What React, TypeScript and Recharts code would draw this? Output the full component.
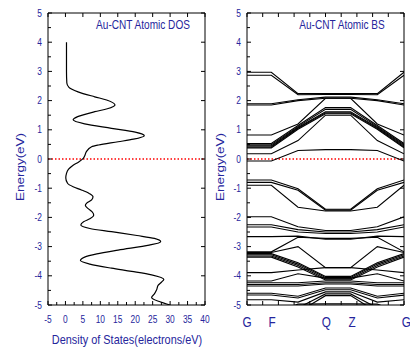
import React from 'react';
import { LineChart, Line, XAxis, YAxis, ReferenceLine } from 'recharts';

const FONT = '"Liberation Sans", Arial, sans-serif';
const BLUE = '#25259c';
const SX = 0.84;

// ---------- DOS panel data ----------
const dosEnergy = [
  -5.0, -4.89, -4.74, -4.62, -4.49, -4.32, -4.22, -4.12, -3.97, -3.85, -3.74, -3.6, -3.48, -3.36, -3.25,
  -3.12, -2.95, -2.83, -2.72, -2.62, -2.49, -2.38, -2.26, -2.15, -2.05, -1.92, -1.8, -1.7, -1.58, -1.5,
  -1.4, -1.29, -1.18, -1.06, -0.95, -0.83, -0.65, -0.49, -0.35, -0.21, -0.1, 0.02, 0.1, 0.25, 0.42,
  0.48, 0.59, 0.68, 0.8, 0.92, 1.05, 1.2, 1.34, 1.45, 1.62, 1.72, 1.85, 2.02, 2.13, 2.3, 2.45, 2.6,
  3.0, 3.5, 4.0,
];
const dosValues = [
  30.0, 27.1, 24.7, 25.5, 26.1, 26.6, 27.5, 28.2, 24.7, 19.0, 13.2, 7.0, 4.3, 5.5, 9.0,
  15.1, 24.0, 27.3, 25.5, 20.5, 13.2, 7.0, 4.4, 5.2, 7.0, 8.1, 7.6, 6.5, 5.7, 6.2,
  7.5, 7.9, 6.8, 4.6, 2.2, 0.6, 0.1, 0.3, 0.9, 2.2, 3.8, 5.1, 5.5, 6.0, 7.5,
  9.5, 15.1, 19.5, 22.6, 20.0, 13.2, 5.5, 2.2, 3.5, 8.4, 12.0, 14.2, 11.8, 8.4, 3.6, 1.0, 0.4,
  0.3, 0.3, 0.3,
];
const dosXTicks = [-5, -2.5, 0, 2.5, 5, 7.5, 10, 12.5, 15, 17.5, 20, 22.5, 25, 27.5, 30, 32.5, 35, 37.5, 40];
const dosXLabels = [-5, 0, 5, 10, 15, 20, 25, 30, 35, 40];
const dosTopTicks = [-5, 0, 5, 10, 15, 20, 25, 30, 35, 40];

// ---------- shared energy axis ----------
const energyTicks = [-5, -4.5, -4, -3.5, -3, -2.5, -2, -1.5, -1, -0.5, 0, 0.5, 1, 1.5, 2, 2.5, 3, 3.5, 4, 4.5, 5];
const energyLabels = [-5, -4, -3, -2, -1, 0, 1, 2, 3, 4, 5];

// ---------- band structure data ----------
const kPoints = [0, 1.55, 3.25, 5.0, 6.6, 8.3, 10];
const kTicks = [0, 1, 2, 3, 4, 5, 6, 7, 8, 9, 10];
const kLabelNames = ['G', 'F', 'Q', 'Z', 'G'];
const kLabelPos = [0, 1.6, 5.05, 6.7, 10.15];
const bands: number[][] = [
  [2.97, 2.97, 2.24, 2.24, 2.24, 2.24, 2.97],
  [2.87, 2.87, 2.2, 2.21, 2.21, 2.2, 2.87],
  [1.89, 1.89, 2.03, 2.12, 2.12, 2.03, 1.89],
  [1.85, 1.85, 2.0, 2.08, 2.08, 2.0, 1.85],
  [0.82, 0.82, 1.2, 2.08, 2.08, 1.2, 0.82],
  [0.53, 0.53, 1.15, 1.76, 1.76, 1.15, 0.53],
  [0.49, 0.49, 1.11, 1.7, 1.7, 1.11, 0.49],
  [0.45, 0.45, 1.08, 1.62, 1.62, 1.08, 0.45],
  [0.41, 0.41, 1.05, 1.58, 1.58, 1.05, 0.41],
  [0.38, 0.38, 1.02, 1.55, 1.55, 1.02, 0.38],
  [0.18, 0.18, 0.63, 1.5, 1.5, 0.63, 0.18],
  [-0.07, -0.07, 0.29, 0.32, 0.32, 0.29, -0.07],
  [-0.72, -0.72, -1.02, -1.72, -1.72, -1.02, -0.72],
  [-0.8, -0.8, -1.07, -1.75, -1.75, -1.07, -0.8],
  [-0.9, -0.9, -1.65, -1.78, -1.78, -1.65, -0.9],
  [-1.98, -1.98, -2.32, -2.45, -2.45, -2.32, -1.98],
  [-2.25, -2.25, -2.42, -2.5, -2.5, -2.42, -2.25],
  [-2.33, -2.33, -2.5, -2.55, -2.55, -2.5, -2.33],
  [-2.66, -2.66, -2.64, -2.75, -2.75, -2.64, -2.66],
  [-3.18, -3.18, -2.68, -2.72, -2.72, -2.68, -3.18],
  [-3.2, -3.2, -3.0, -3.72, -3.72, -3.0, -3.2],
  [-3.24, -3.24, -3.55, -4.02, -4.02, -3.55, -3.24],
  [-3.28, -3.28, -3.6, -4.06, -4.06, -3.6, -3.28],
  [-3.32, -3.32, -3.65, -4.1, -4.1, -3.65, -3.32],
  [-3.36, -3.36, -3.7, -4.14, -4.14, -3.7, -3.36],
  [-3.89, -3.89, -3.8, -3.72, -3.72, -3.8, -3.89],
  [-4.18, -4.18, -3.93, -4.08, -4.08, -3.93, -4.18],
  [-4.24, -4.24, -4.24, -4.18, -4.18, -4.24, -4.24],
  [-4.3, -4.3, -4.3, -4.24, -4.24, -4.3, -4.3],
  [-4.35, -4.35, -4.35, -4.28, -4.28, -4.35, -4.35],
  [-4.6, -4.6, -4.7, -4.42, -4.42, -4.7, -4.6],
  [-4.66, -4.66, -4.76, -4.48, -4.48, -4.76, -4.66],
  [-4.82, -4.82, -4.9, -4.55, -4.55, -4.9, -4.82],
  [-5.3, -5.3, -5.1, -4.62, -4.62, -5.1, -5.3],
  [-5.4, -5.4, -5.25, -4.68, -4.68, -5.25, -5.4],
  [-5.4, -5.3, -4.97, -4.96, -4.96, -4.97, -5.3],
];

const dosRows = dosEnergy.map((e, i) => ({ energy: e, dos: dosValues[i] }));
const bandRows = kPoints.map((k, i) => {
  const row: Record<string, number> = { k };
  bands.forEach((b, j) => {
    row['b' + j] = b[i];
  });
  return row;
});

const textStyle = { fontFamily: FONT, fill: BLUE };

const makeBottomTick = (labels: number[], labelFmt?: (v: number) => string) => (props: any) => {
  const { x, y, payload } = props;
  const v = payload.value as number;
  const major = labels.includes(v);
  return (
    <g>
      <line x1={x} x2={x} y1={y} y2={y - (major ? 4 : 3)} stroke="#000" strokeWidth={1} />
      {major && labelFmt && (
        <text transform={`translate(${x},${y + 17.5}) scale(${SX},1)`} textAnchor="middle" fontSize={10} style={textStyle}>
          {labelFmt(v)}
        </text>
      )}
    </g>
  );
};

const TopTick = (props: any) => {
  const { x, y } = props;
  return <line x1={x} x2={x} y1={y} y2={y + 4} stroke="#000" strokeWidth={1} />;
};

const LeftTick = (props: any) => {
  const { x, y, payload } = props;
  const v = payload.value as number;
  const major = energyLabels.includes(v);
  return (
    <g>
      <line x1={x} x2={x + (major ? 4 : 3)} y1={y} y2={y} stroke="#000" strokeWidth={1} />
      {major && (
        <text transform={`translate(${x - 6},${y + 3.6}) scale(${SX},1)`} textAnchor="end" fontSize={10} style={textStyle}>
          {String(v)}
        </text>
      )}
    </g>
  );
};

const RightTick = (props: any) => {
  const { x, y, payload } = props;
  const v = payload.value as number;
  if (!energyLabels.includes(v)) return <g />;
  return <line x1={x} x2={x - 4} y1={y} y2={y} stroke="#000" strokeWidth={1} />;
};

const DosBottomTick = makeBottomTick(dosXLabels, (v) => String(v));
const BandBottomTick = makeBottomTick(kTicks);

const W1 = 215;
const H = 351;

const commonAxis = {
  interval: 0 as const,
  allowDataOverflow: true,
  tickSize: 0,
  tickMargin: 0,
  tickLine: false,
  axisLine: { stroke: '#000' },
};

export default function App() {
  return (
    <div style={{ position: 'absolute', left: 0, top: 0, width: 410, height: 351, background: '#fff' }}>
      <div style={{ position: 'absolute', left: 0, top: 0 }}>
        <LineChart
          width={W1}
          height={H}
          layout="vertical"
          data={dosRows}
          margin={{ top: 12, left: 47, right: W1 - 205 - 1, bottom: H - 305 - 1 }}
        >
          <XAxis
            type="number"
            dataKey="dos"
            domain={[-5, 40]}
            ticks={dosXTicks}
            height={1}
            tick={DosBottomTick}
            {...commonAxis}
          />
          <XAxis
            xAxisId="top"
            orientation="top"
            type="number"
            dataKey="dos"
            domain={[-5, 40]}
            ticks={dosTopTicks}
            height={1}
            tick={TopTick}
            {...commonAxis}
          />
          <YAxis
            type="number"
            dataKey="energy"
            domain={[-5, 5]}
            reversed
            ticks={energyTicks}
            width={1}
            tick={LeftTick}
            {...commonAxis}
          />
          <YAxis
            yAxisId="right"
            orientation="right"
            type="number"
            dataKey="energy"
            domain={[-5, 5]}
            reversed
            ticks={energyTicks}
            width={1}
            tick={RightTick}
            {...commonAxis}
          />
          <ReferenceLine y={0} stroke="#ff0000" strokeWidth={1.5} strokeDasharray="1.5 2" />
          <Line
            type="monotone"
            dataKey="dos"
            stroke="#000"
            strokeWidth={1.2}
            dot={false}
            isAnimationActive={false}
          />
        </LineChart>
      </div>
      <div style={{ position: 'absolute', left: 200, top: 0 }}>
        <LineChart
          width={210}
          height={H}
          data={bandRows}
          margin={{ top: 12, left: 46, right: 5, bottom: H - 305 - 1 }}
        >
          <XAxis
            type="number"
            dataKey="k"
            domain={[0, 10]}
            ticks={kTicks}
            height={1}
            tick={BandBottomTick}
            {...commonAxis}
          />
          <XAxis
            xAxisId="top"
            orientation="top"
            type="number"
            dataKey="k"
            domain={[0, 10]}
            ticks={kTicks}
            height={1}
            tick={TopTick}
            {...commonAxis}
          />
          <YAxis
            type="number"
            domain={[-5, 5]}
            ticks={energyTicks}
            width={1}
            tick={LeftTick}
            {...commonAxis}
          />
          <YAxis
            yAxisId="right"
            orientation="right"
            type="number"
            domain={[-5, 5]}
            ticks={energyTicks}
            width={1}
            tick={RightTick}
            {...commonAxis}
          />
          <ReferenceLine y={0} stroke="#ff0000" strokeWidth={1.5} strokeDasharray="1.5 2" />
          {bands.map((_, j) => (
            <Line
              key={j}
              type="linear"
              dataKey={'b' + j}
              stroke="#000"
              strokeWidth={1.1}
              dot={false}
              isAnimationActive={false}
            />
          ))}
        </LineChart>
      </div>
      <svg
        width={410}
        height={351}
        style={{ position: 'absolute', left: 0, top: 0, pointerEvents: 'none' }}
      >
        <text transform={`translate(143,29) scale(${SX},1)`} textAnchor="middle" fontSize={12} style={textStyle}>
          Au-CNT Atomic DOS
        </text>
        <text transform={`translate(342,29) scale(${SX},1)`} textAnchor="middle" fontSize={12} style={textStyle}>
          Au-CNT Atomic BS
        </text>
        <text transform={`translate(127,344) scale(${SX},1)`} textAnchor="middle" fontSize={13} style={textStyle}>
          Density of States(electrons/eV)
        </text>
        <text transform={`translate(24,167) scale(${SX},1) rotate(-90)`} textAnchor="middle" fontSize={13.5} style={textStyle}>
          Energy(eV)
        </text>
        <text transform={`translate(224,167) scale(${SX},1) rotate(-90)`} textAnchor="middle" fontSize={13.5} style={textStyle}>
          Energy(eV)
        </text>
        {kLabelNames.map((name, i) => (
          <text
            key={i}
            transform={`translate(${247 + (kLabelPos[i] / 10) * 157},327) scale(${SX},1)`}
            textAnchor="middle"
            fontSize={14}
            style={textStyle}
          >
            {name}
          </text>
        ))}
      </svg>
    </div>
  );
}
